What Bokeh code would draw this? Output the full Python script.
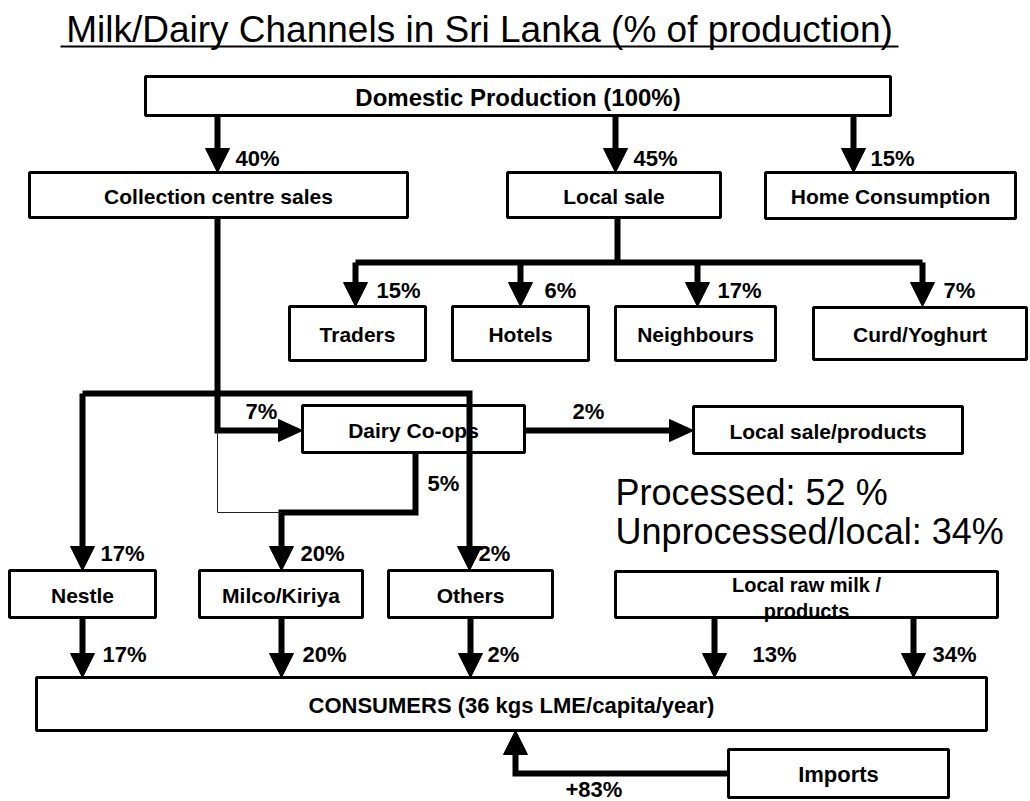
from bokeh.plotting import figure
from bokeh.models import Range1d
from bokeh.embed import file_html
from bokeh.resources import INLINE
from bokeh.core.properties import value

# ---------------- data ----------------
title_text = "Milk/Dairy Channels in Sri Lanka (% of production)"
source_label = "Domestic Production (100%)"
first_level = ["Collection centre sales", "Local sale", "Home Consumption"]
first_share = [40, 45, 15]
local_outlets = ["Traders", "Hotels", "Neighbours", "Curd/Yoghurt"]
local_share = [15, 6, 17, 7]
coop_label = "Dairy Co-ops"
coop_in_share = 7
coop_out_label = "Local sale/products"
coop_out_share = 2
coop_to_processor_share = 5
processors = ["Nestle", "Milco/Kiriya", "Others"]
processor_in_share = [17, 20, 2]
raw_label = ["Local raw milk /", "products"]
consumer_label = "CONSUMERS (36 kgs LME/capita/year)"
to_consumer_share = [17, 20, 2, 13, 34]
import_label = "Imports"
import_share = 83
summary_labels = ["Processed", "Unprocessed/local"]
summary_share = [52, 34]

# ---------------- layout (pixel positions of the diagram) ----------------
FONT = value("Liberation Sans")
box_source = (145, 890, 76, 115)
box_first = [(29, 407, 172, 217), (507, 720, 172, 217), (765, 1015, 172, 218)]
box_local = [(289, 425, 306, 360), (452, 588, 306, 360), (615, 775, 306, 360), (813, 1026, 307, 359)]
box_coop = (302, 524, 405, 452)
box_coop_out = (693, 962, 406, 453)
box_proc = [(9, 155, 570, 617), (199, 362, 570, 617), (388, 552, 570, 617)]
box_raw = (615, 997, 571, 617)
box_cons = (36, 986, 677, 730)
box_imp = (728, 948, 749, 797)

p = figure(width=1030, height=801, x_range=Range1d(0, 1030), y_range=Range1d(801, 0),
           output_backend="svg", toolbar_location=None, min_border=0,
           x_axis_location=None, y_axis_location=None)
p.grid.visible = False
p.outline_line_color = None
p.background_fill_color = "white"
p.border_fill_color = "white"

# ---------------- boxes ----------------
boxes = [box_source] + box_first + box_local + [box_coop, box_coop_out] + box_proc + [box_raw, box_cons, box_imp]
p.quad(left=[b[0] for b in boxes], right=[b[1] for b in boxes],
       top=[b[2] for b in boxes], bottom=[b[3] for b in boxes],
       fill_color="white", line_color="black", line_width=3)

def centre(b):
    return ((b[0] + b[1]) / 2, (b[2] + b[3]) / 2)

def box_texts(blist, labels, size, style="bold", dy=1):
    xs = [centre(b)[0] for b in blist]
    ys = [centre(b)[1] + dy for b in blist]
    p.text(x=xs, y=ys, text=labels, text_font=FONT, text_font_style=style,
           text_font_size=size, text_align="center", text_baseline="middle", text_color="black")

box_texts([box_source], [source_label], "24px")
box_texts(box_first, first_level, "21px")
box_texts(box_local, local_outlets, "21px")
box_texts([box_coop], [coop_label], "21px")
box_texts([box_coop_out], [coop_out_label], "21px")
box_texts(box_proc, processors, "21px")
box_texts([box_cons], [consumer_label], "22px")
box_texts([box_imp], [import_label], "22px")
rx = centre(box_raw)[0]
p.text(x=[rx, rx], y=[584, 610], text=raw_label, text_font=FONT, text_font_style="bold",
       text_font_size="20px", text_align="center", text_baseline="middle", text_color="black")

# ---------------- title & summary ----------------
p.text(x=[479], y=[29], text=[title_text], text_font=FONT, text_font_size="37px",
       text_align="center", text_baseline="middle", text_color="black")
p.line(x=[60, 898], y=[46, 46], line_color="black", line_width=2)
summary = [f"{summary_labels[0]}: {summary_share[0]} %", f"{summary_labels[1]}: {summary_share[1]}%"]
p.text(x=[615, 615], y=[492, 531], text=summary, text_font=FONT, text_font_size="36px",
       text_align="left", text_baseline="middle", text_color="black")

# ---------------- arrows ----------------
L, W = 24, 24
lines_x, lines_y = [], []
heads_x, heads_y = [], []

def arrow(points, direction=None):
    pts = [list(q) for q in points]
    if direction is not None:
        tx, ty = pts[-1]
        if direction == "down":
            heads_x.append([tx - W / 2, tx + W / 2, tx]); heads_y.append([ty - L, ty - L, ty])
            pts[-1][1] = ty - L + 2
        elif direction == "up":
            heads_x.append([tx - W / 2, tx + W / 2, tx]); heads_y.append([ty + L, ty + L, ty])
            pts[-1][1] = ty + L - 2
        elif direction == "right":
            heads_x.append([tx - L, tx - L, tx]); heads_y.append([ty - W / 2 + 1, ty + W / 2 - 1, ty])
            pts[-1][0] = tx - L + 2
    lines_x.append([q[0] for q in pts]); lines_y.append([q[1] for q in pts])

# production split
first_x = [217, 615, 853]
for x in first_x:
    arrow([(x, box_source[3]), (x, box_first[0][2])], "down")
# local sale split
local_x = [355, 520, 697, 922]
arrow([(617, box_first[1][3]), (617, 262)])
arrow([(local_x[0], 262), (local_x[-1], 262)])
for x in local_x:
    arrow([(x, 262), (x, box_local[0][2])], "down")
# collection centre -> co-ops
arrow([(217, box_first[0][3]), (217, 430), (box_coop[0], 430)], "right")
# co-ops -> local sale/products
arrow([(box_coop[1], 430), (box_coop_out[0], 430)], "right")
# co-ops -> Milco
arrow([(415, box_coop[3]), (415, 512), (281, 512), (281, box_proc[1][2])], "down")
# collection -> Nestle / Others loop
arrow([(82, 393), (82, box_proc[0][2])], "down")
arrow([(82, 393), (469, 393), (469, box_proc[2][2])], "down")
# to consumers
cons_x = [82, 281, 470, 714, 913]
for x in cons_x:
    arrow([(x, 617), (x, box_cons[2])], "down")
# imports
arrow([(box_imp[0], 773), (515, 773), (515, box_cons[3])], "up")

p.multi_line(xs=lines_x, ys=lines_y, line_color="black", line_width=6,
             line_join="miter", line_cap="butt")
p.line(x=[217, 217, 281], y=[430, 512, 512], line_color="#222222", line_width=1)
p.patches(xs=heads_x, ys=heads_y, fill_color="black", line_color="black", line_width=1)

# ---------------- percentage labels ----------------
lab_x, lab_y, lab_t = [], [], []
def lab(x, y, t):
    lab_x.append(x); lab_y.append(y); lab_t.append(t)

for x, v in zip([235, 633, 870], first_share):
    lab(x, 158, f"{v}%")
for x, v in zip([376, 544, 717, 943], local_share):
    lab(x, 290, f"{v}%")
lab(245, 411, f"{coop_in_share}%")
lab(572, 411, f"{coop_out_share}%")
lab(427, 483, f"{coop_to_processor_share}%")
for x, v in zip([100, 300, 478], processor_in_share):
    lab(x, 553, f"{v}%")
for x, v in zip([102, 302, 487, 752, 932], to_consumer_share):
    lab(x, 654, f"{v}%")
lab(565, 789, f"+{import_share}%")
p.text(x=lab_x, y=lab_y, text=lab_t, text_font=FONT, text_font_style="bold",
       text_font_size="22px", text_align="left", text_baseline="middle", text_color="black")

open("out.html", "w").write(file_html(p, INLINE))
